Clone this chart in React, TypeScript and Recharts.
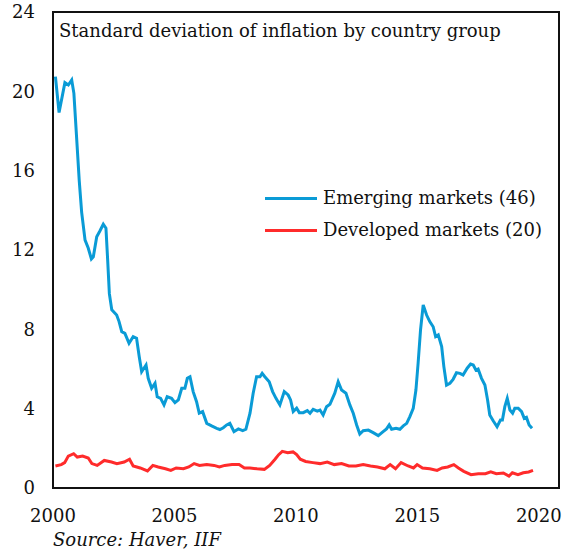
import React from "react";
import { LineChart, Line, XAxis, YAxis, ReferenceArea } from "recharts";

const FONT = "'DejaVu Serif', 'Liberation Serif', serif";

const xTicks = [2000, 2005, 2010, 2015, 2020];
const yTicks = [0, 4, 8, 12, 16, 20, 24];

const emT = [
  2000.1, 2000.25, 2000.49, 2000.63, 2000.77, 2000.86, 2000.97, 2001.08, 2001.18, 2001.32,
  2001.45, 2001.58, 2001.66, 2001.8, 2001.93, 2002.07, 2002.18, 2002.25, 2002.32, 2002.42,
  2002.62, 2002.72, 2002.83, 2002.96, 2003.13, 2003.3, 2003.44, 2003.55, 2003.65, 2003.83,
  2003.92, 2004.06, 2004.2, 2004.29, 2004.43, 2004.57, 2004.7, 2004.88, 2005.02, 2005.16,
  2005.3, 2005.43, 2005.53, 2005.64, 2005.77, 2005.91, 2006.02, 2006.16, 2006.33, 2006.53,
  2006.74, 2006.87, 2007.01, 2007.15, 2007.28, 2007.45, 2007.63, 2007.81, 2007.94, 2008.11,
  2008.24, 2008.38, 2008.52, 2008.61, 2008.72, 2008.9, 2009.04, 2009.18, 2009.34, 2009.52,
  2009.68, 2009.78, 2009.89, 2010.03, 2010.14, 2010.3, 2010.47, 2010.58, 2010.71, 2010.88,
  2010.99, 2011.12, 2011.26, 2011.4, 2011.6, 2011.74, 2011.88, 2012.06, 2012.22, 2012.36,
  2012.5, 2012.63, 2012.77, 2012.98, 2013.18, 2013.39, 2013.59, 2013.73, 2013.84, 2013.94,
  2014.12, 2014.28, 2014.42, 2014.56, 2014.69, 2014.83, 2014.94, 2015.03, 2015.13, 2015.24,
  2015.38, 2015.51, 2015.65, 2015.75, 2015.86, 2016.0, 2016.09, 2016.2, 2016.34, 2016.47,
  2016.61, 2016.75, 2016.88, 2017.05, 2017.19, 2017.3, 2017.41, 2017.5, 2017.64, 2017.78,
  2017.89, 2017.98, 2018.12, 2018.28, 2018.42, 2018.5, 2018.6, 2018.7, 2018.81, 2018.92,
  2019.01, 2019.15, 2019.29, 2019.4, 2019.49, 2019.6, 2019.72,
];
const emV = [
  20.74, 18.93, 20.44, 20.32, 20.57, 19.9, 17.7, 15.5, 13.9, 12.5,
  12.1, 11.55, 11.66, 12.67, 12.96, 13.3, 13.1, 11.5, 9.8, 8.98,
  8.72, 8.39, 7.88, 7.8, 7.3, 7.63, 7.55, 6.62, 5.86, 6.2,
  5.53, 5.03, 5.28, 4.6, 4.52, 4.19, 4.6, 4.52, 4.3, 4.44,
  5.03, 5.03, 5.53, 5.61, 4.86, 4.35, 3.77, 3.85, 3.26, 3.13,
  3.01, 2.95, 3.04, 3.18, 3.26, 2.84, 2.98, 2.89, 2.96, 3.77,
  4.78, 5.61, 5.61, 5.78, 5.61, 5.36, 4.86, 4.52, 4.19, 4.86,
  4.69, 4.44, 3.85, 4.02, 3.8, 3.8, 3.9, 3.77, 3.97, 3.88,
  3.93, 3.68, 4.1, 4.22, 4.78, 5.36, 4.94, 4.78, 4.19, 3.77,
  3.18, 2.72, 2.89, 2.92, 2.79, 2.64, 2.84, 2.98, 3.18, 2.96,
  3.01, 2.96, 3.13, 3.26, 3.6, 4.02, 4.94, 6.29, 7.97, 9.23,
  8.72, 8.39, 8.13, 7.63, 7.72, 7.13, 6.12, 5.19, 5.28, 5.48,
  5.81, 5.78, 5.7, 6.04, 6.25, 6.2, 5.95, 6.0, 5.53, 5.19,
  4.44, 3.68, 3.39, 3.09, 3.43, 3.43, 4.1, 4.52, 3.93, 3.77,
  4.02, 4.02, 3.85, 3.51, 3.56, 3.18, 3.01,
];

const dmT = [
  2000.1, 2000.34, 2000.48, 2000.63, 2000.85, 2001.0, 2001.22, 2001.45, 2001.6, 2001.82,
  2002.11, 2002.41, 2002.63, 2002.93, 2003.15, 2003.3, 2003.59, 2003.89, 2004.11, 2004.33,
  2004.63, 2004.85, 2005.07, 2005.37, 2005.59, 2005.81, 2006.03, 2006.33, 2006.63, 2006.85,
  2007.07, 2007.37, 2007.66, 2007.88, 2008.11, 2008.4, 2008.7, 2008.92, 2009.14, 2009.29,
  2009.44, 2009.66, 2009.88, 2010.03, 2010.18, 2010.4, 2010.7, 2010.99, 2011.29, 2011.58,
  2011.88, 2012.18, 2012.47, 2012.77, 2013.07, 2013.36, 2013.66, 2013.88, 2014.1, 2014.33,
  2014.62, 2014.84, 2014.99, 2015.21, 2015.51, 2015.81, 2016.02, 2016.25, 2016.5, 2016.69,
  2016.91, 2017.21, 2017.51, 2017.8, 2018.02, 2018.25, 2018.54, 2018.77, 2018.91, 2019.14,
  2019.36, 2019.58, 2019.76,
];
const dmV = [
  1.11, 1.18, 1.28, 1.61, 1.73, 1.56, 1.61, 1.51, 1.23, 1.14,
  1.39, 1.31, 1.23, 1.31, 1.45, 1.11, 1.01, 0.86, 1.14, 1.06,
  0.97, 0.89, 1.01, 0.97, 1.06, 1.23, 1.14, 1.18, 1.14, 1.06,
  1.14, 1.18, 1.18, 1.01, 1.01, 0.97, 0.94, 1.14, 1.45, 1.68,
  1.85, 1.78, 1.82, 1.68, 1.45, 1.34, 1.28, 1.23, 1.31, 1.18,
  1.23, 1.11, 1.11, 1.18, 1.11, 1.06, 0.97, 1.18, 0.97, 1.28,
  1.11, 1.01, 1.18, 1.01, 0.97, 0.89, 1.01, 1.06, 1.18, 1.01,
  0.84, 0.67, 0.72, 0.72, 0.81, 0.72, 0.76, 0.6, 0.77, 0.67,
  0.77, 0.81, 0.89,
];

const EM_COLOR = "#0a9bd6";
const DM_COLOR = "#ff2b2b";

type Row = { t: number; em?: number; dm?: number };
const rows: Row[] = [];
emT.forEach((t, i) => rows.push({ t, em: emV[i] }));
dmT.forEach((t, i) => rows.push({ t, dm: dmV[i] }));
rows.sort((a, b) => a.t - b.t);

const legendItems = [
  { label: "Emerging markets (46)", color: EM_COLOR },
  { label: "Developed markets (20)", color: DM_COLOR },
];

const textStyle: React.CSSProperties = {
  position: "absolute",
  fontFamily: FONT,
  fontSize: 18,
  color: "#111",
  whiteSpace: "nowrap",
  lineHeight: "22px",
};

export default function App() {
  return (
    <div style={{ position: "absolute", left: 0, top: 0, width: 563, height: 556, background: "#fff" }}>
      <LineChart
        width={563}
        height={556}
        data={rows}
        margin={{ top: 12, right: 4, bottom: 28, left: 0 }}
      >
        <XAxis
          dataKey="t"
          type="number"
          domain={[2000, 2020.83]}
          ticks={xTicks}
          allowDataOverflow
          axisLine={false}
          tickLine={false}
          tickSize={0}
          tickMargin={21}
          height={40}
          tick={{ fontFamily: FONT, fontSize: 18, fill: "#111" }}
        />
        <YAxis
          type="number"
          domain={[0, 24]}
          ticks={yTicks}
          allowDataOverflow
          axisLine={false}
          tickLine={false}
          tickSize={0}
          tickMargin={18}
          width={53}
          tick={{ fontFamily: FONT, fontSize: 18, fill: "#111" }}
        />
        <ReferenceArea
          x1={2000}
          x2={2020.83}
          y1={0}
          y2={24}
          fill="none"
          stroke="#111"
          strokeWidth={2}
          fillOpacity={0}
          ifOverflow="visible"
        />
        <Line
          dataKey="dm"
          type="linear"
          stroke={DM_COLOR}
          strokeWidth={3}
          dot={false}
          connectNulls
          isAnimationActive={false}
        />
        <Line
          dataKey="em"
          type="linear"
          stroke={EM_COLOR}
          strokeWidth={3}
          dot={false}
          connectNulls
          isAnimationActive={false}
        />
      </LineChart>
      <div style={{ ...textStyle, left: 59, top: 20 }}>
        Standard deviation of inflation by country group
      </div>
      {legendItems.map((it, i) => (
        <div key={it.label} style={{ ...textStyle, left: 265, top: 187 + i * 32, display: "flex", alignItems: "center" }}>
          <div style={{ width: 52, height: 3, background: it.color, marginRight: 6 }} />
          <span>{it.label}</span>
        </div>
      ))}
      <div style={{ ...textStyle, left: 53, top: 529, fontStyle: "italic" }}>Source: Haver, IIF</div>
    </div>
  );
}
